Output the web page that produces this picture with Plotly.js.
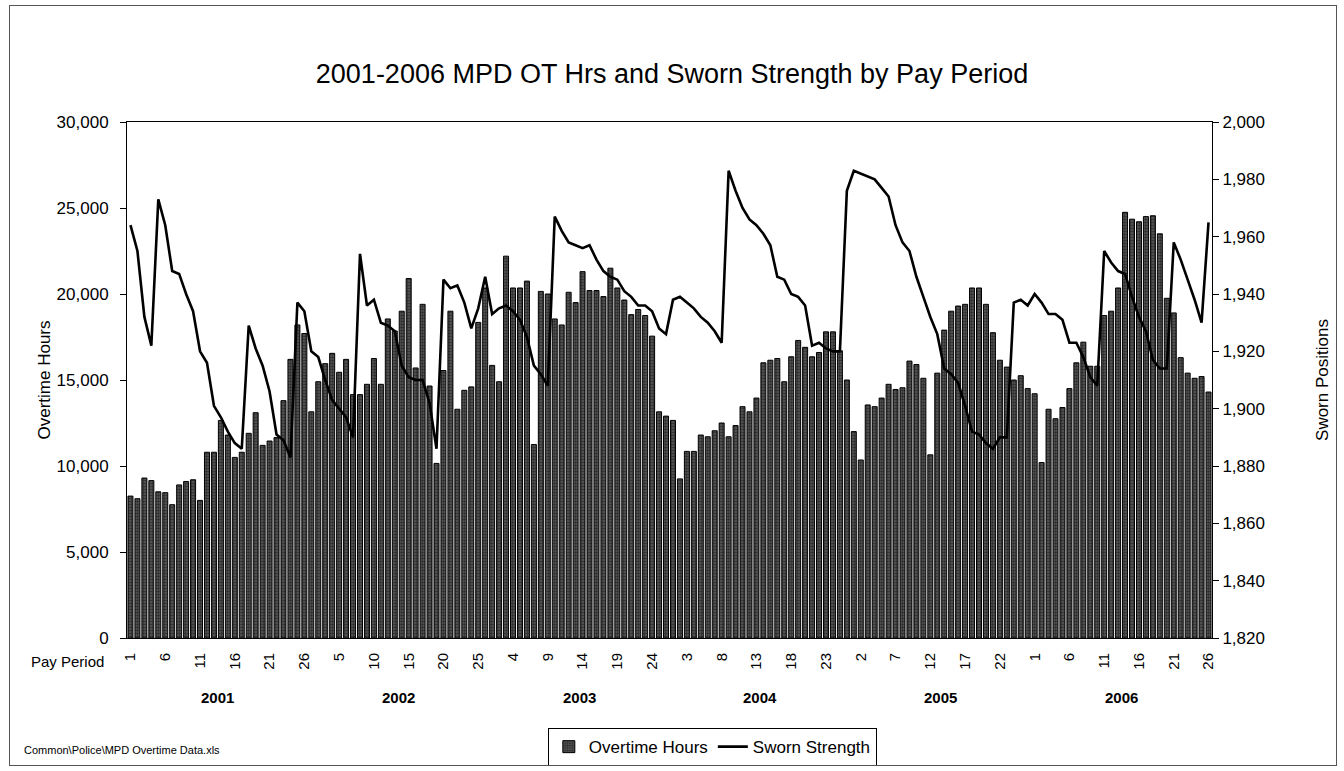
<!DOCTYPE html>
<html>
<head>
<meta charset="utf-8">
<script src="https://cdn.plot.ly/plotly-3.0.1.min.js"></script>
<style>
html,body{margin:0;padding:0;background:#fff;}
#chart{width:1344px;height:771px;}
#frame{position:absolute;left:9px;top:5px;width:1326px;height:759px;border:1px solid #555;pointer-events:none;}
</style>
</head>
<body>
<div id="chart"></div>
<div id="frame"></div>
<script>
// ---- data ----
const years = ['2001', '2002', '2003', '2004', '2005', '2006'];
const periodsPerYear = 26;
const tickEvery = 5;

const overtimeHours = [
  // 2001
  8250, 8100, 9300, 9150, 8500, 8450, 7750, 8900, 9100, 9200, 8000, 10800, 10800,
  12650, 11800, 10500, 10800, 11900, 13100, 11200, 11450, 11650, 13800, 16200, 18200, 17700,
  // 2002
  13150, 14900, 15950, 16550, 15450, 16200, 14150, 14150, 14750, 16250, 14750, 18550, 17850,
  19000, 20900, 15700, 19400, 14650, 10150, 15550, 19000, 13300, 14400, 14600, 18350, 20350,
  // 2003
  15850, 14900, 22200, 20350, 20350, 20750, 11250, 20150, 20000, 18550, 18200, 20100, 19500,
  21300, 20200, 20200, 19850, 21500, 20350, 19650, 18800, 19100, 18750, 17550, 13150, 12900,
  // 2004
  12650, 9250, 10850, 10850, 11800, 11700, 12050, 12500, 11700, 12350, 13450, 13150, 13950,
  16000, 16150, 16250, 14900, 16350, 17300, 16900, 16350, 16600, 17800, 17800, 16700, 15000,
  // 2005
  12000, 10350, 13550, 13450, 13950, 14750, 14450, 14550, 16100, 15900, 15100, 10650, 15400,
  17900, 19000, 19300, 19400, 20350, 20350, 19400, 17750, 16150, 15750, 15000, 15250, 14500,
  // 2006
  14200, 10200, 13300, 12750, 13400, 14500, 16000, 17200, 15800, 15800, 18750, 19000, 20350,
  24750, 24350, 24200, 24500, 24550, 23500, 19750, 18900, 16300, 15400, 15100, 15200, 14300
];

const swornStrength = [
  // 2001
  1964, 1955, 1932, 1922, 1973, 1964, 1948, 1947, 1940, 1934, 1920, 1916, 1901,
  1897, 1892, 1888, 1886, 1929, 1921, 1915, 1906, 1891, 1889, 1883, 1937, 1934,
  // 2002
  1920, 1918, 1910, 1903, 1900, 1897, 1890, 1954, 1936, 1938, 1930, 1929, 1927,
  1915, 1911, 1910, 1910, 1902, 1886, 1945, 1942, 1943, 1937, 1928, 1935, 1946,
  // 2003
  1933, 1935, 1936, 1934, 1931, 1925, 1915, 1912, 1908, 1967, 1962, 1958, 1957,
  1956, 1957, 1952, 1948, 1946, 1945, 1941, 1939, 1936, 1936, 1934, 1928, 1926,
  // 2004
  1938, 1939, 1937, 1935, 1932, 1930, 1927, 1923, 1983, 1976, 1970, 1966, 1964,
  1961, 1957, 1946, 1945, 1940, 1939, 1936, 1922, 1923, 1921, 1920, 1920, 1976,
  // 2005
  1983, 1982, 1981, 1980, 1977, 1974, 1964, 1958, 1955, 1946, 1939, 1932, 1926,
  1914, 1912, 1909, 1901, 1892, 1891, 1888, 1886, 1890, 1890, 1937, 1938, 1936,
  // 2006
  1940, 1937, 1933, 1933, 1931, 1923, 1923, 1918, 1911, 1908, 1955, 1951, 1948,
  1947, 1939, 1932, 1927, 1917, 1914, 1914, 1958, 1952, 1945, 1938, 1930, 1965
];

// ---- derived categories ----
const xIdx = [];
const periodLabel = [];
years.forEach((y, yi) => {
  for (let p = 1; p <= periodsPerYear; p++) {
    xIdx.push(yi * periodsPerYear + p);
    periodLabel.push(String(p));
  }
});
const tickVals = xIdx.filter((v, i) => i % tickEvery === 0);
const tickText = periodLabel.filter((v, i) => i % tickEvery === 0);

const FONT = 'Liberation Sans, Arial, Helvetica, sans-serif';

const traces = [
  {
    type: 'bar',
    name: 'Overtime Hours',
    x: xIdx,
    y: overtimeHours,
    yaxis: 'y',
    marker: {
      color: '#5c5c5c',
      line: { color: '#000', width: 1 },
      pattern: { shape: '.', fgcolor: '#000', size: 3, solidity: 0.55, fillmode: 'overlay' }
    }
  },
  {
    type: 'scatter',
    mode: 'lines',
    name: 'Sworn Strength',
    x: xIdx,
    y: swornStrength,
    yaxis: 'y2',
    line: { color: '#000', width: 2.6 }
  }
];

const annotations = years.map((y, yi) => ({
  text: '<b>' + y + '</b>',
  x: yi * periodsPerYear + (periodsPerYear + 1) / 2,
  xref: 'x',
  y: -0.116,
  yref: 'paper',
  showarrow: false,
  xanchor: 'center',
  yanchor: 'middle',
  font: { family: FONT, size: 15, color: '#000' }
}));
annotations.push({
  text: 'Pay Period',
  x: -0.019, xref: 'paper',
  y: -0.045, yref: 'paper',
  xanchor: 'right', yanchor: 'middle',
  showarrow: false,
  font: { family: FONT, size: 15, color: '#000' }
});
annotations.push({
  text: 'Common\\Police\\MPD Overtime Data.xls',
  x: -0.097, xref: 'paper',
  y: -0.217, yref: 'paper',
  xanchor: 'left', yanchor: 'middle',
  showarrow: false,
  font: { family: FONT, size: 11, color: '#000' }
});

const layout = {
  width: 1344,
  height: 771,
  margin: { l: 127, r: 132, t: 122, b: 133, pad: 0 },
  paper_bgcolor: '#fff',
  plot_bgcolor: '#fff',
  font: { family: FONT, color: '#000' },
  title: {
    text: '2001-2006 MPD OT Hrs and Sworn Strength by Pay Period',
    font: { family: FONT, size: 27, color: '#000' },
    x: 0.5, xanchor: 'center',
    y: 0.905, yanchor: 'middle'
  },
  bargap: 0.28,
  showlegend: true,
  legend: {
    orientation: 'h',
    xref: 'container', yref: 'container',
    x: 0.53, xanchor: 'center',
    y: 0.031, yanchor: 'middle',
    bordercolor: '#000', borderwidth: 1,
    font: { family: FONT, size: 17, color: '#000' },
    bgcolor: '#fff'
  },
  xaxis: {
    automargin: false,
    range: [0.5, xIdx.length + 0.5],
    tickmode: 'array',
    tickvals: tickVals,
    ticktext: tickText,
    tickangle: -90,
    ticklabelstandoff: 8,
    tickfont: { family: FONT, size: 15, color: '#000' },
    showline: true, linecolor: '#000', linewidth: 1, mirror: true,
    ticks: '', showgrid: false, zeroline: false
  },
  yaxis: {
    automargin: false,
    range: [0, 30000],
    dtick: 5000,
    tickformat: ',d',
    tickfont: { family: FONT, size: 17, color: '#000' },
    ticks: 'outside', ticklen: 6, tickcolor: '#000',
    ticklabelstandoff: 8,
    showline: true, linecolor: '#000', linewidth: 1,
    showgrid: false, zeroline: false,
    title: { text: 'Overtime Hours', font: { family: FONT, size: 17, color: '#000' }, standoff: 1 }
  },
  yaxis2: {
    automargin: false,
    overlaying: 'y',
    side: 'right',
    range: [1820, 2000],
    dtick: 20,
    tickformat: ',d',
    tickfont: { family: FONT, size: 17, color: '#000' },
    ticks: 'outside', ticklen: 6, tickcolor: '#000',
    showline: true, linecolor: '#000', linewidth: 1,
    showgrid: false, zeroline: false,
    title: { text: 'Sworn Positions', font: { family: FONT, size: 17, color: '#000' }, standoff: 52 }
  },
  annotations: annotations
};

Plotly.newPlot('chart', traces, layout, { displayModeBar: false, staticPlot: true });
</script>
</body>
</html>
